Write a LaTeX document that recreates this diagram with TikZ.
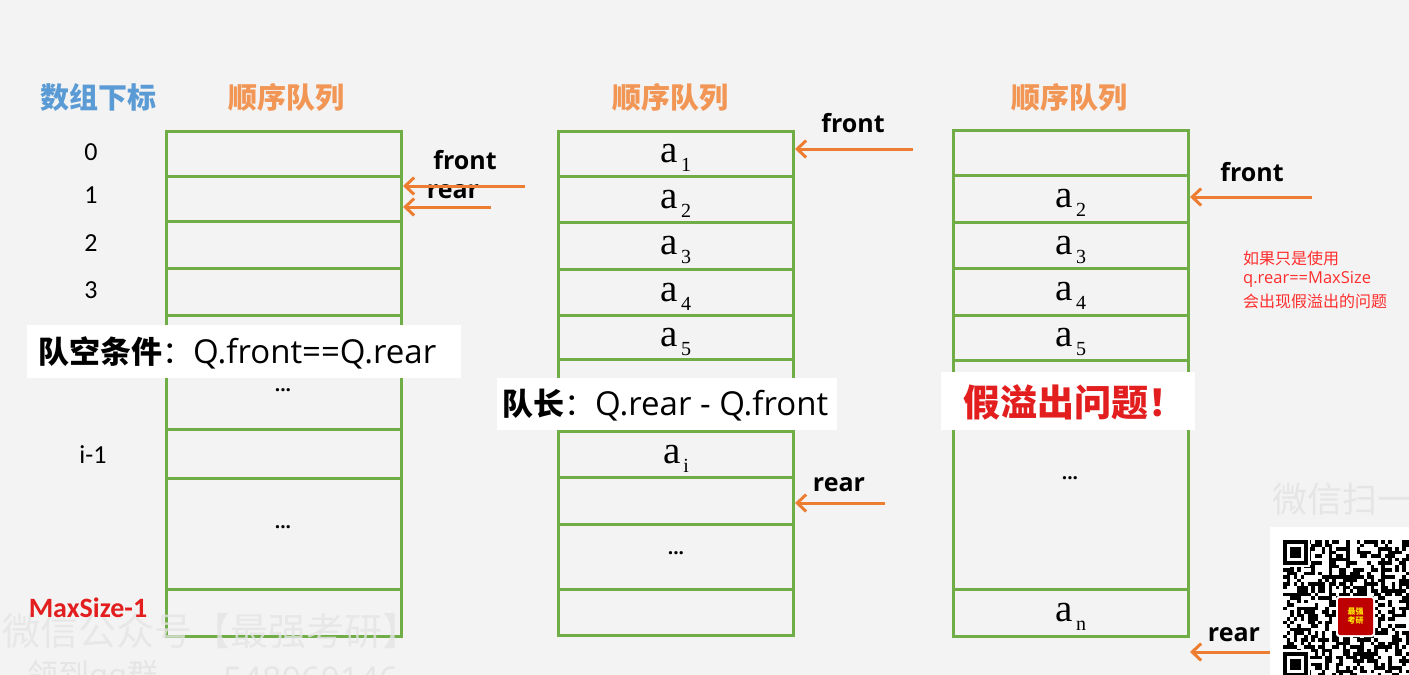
\documentclass[tikz,border=0pt]{standalone}
\usepackage{fontspec}
\setmainfont{Noto Sans CJK SC}
\newfontfamily\osf{Open Sans}
\newfontfamily\tmsf{Liberation Serif}
\newfontfamily\calf{Carlito}
\usetikzlibrary{arrows.meta}
\definecolor{qgreen}{RGB}{112,173,71}
\definecolor{qorange}{RGB}{237,125,49}
\definecolor{ttlorange}{RGB}{242,150,85}
\definecolor{ttlblue}{RGB}{91,155,213}
\definecolor{qred}{RGB}{226,30,30}
\definecolor{notered}{RGB}{255,45,45}
\definecolor{bgc}{RGB}{243,243,243}
\definecolor{wmc}{RGB}{229,229,229}
\newcommand\aSub[1]{{\tmsf\fontsize{39}{39}\selectfont a}\hspace{3pt}\raisebox{-9pt}[0pt][0pt]{\tmsf\fontsize{20}{20}\selectfont #1}}
\begin{document}
\begin{tikzpicture}[x=1pt,y=-1pt,
  cell/.style={draw=qgreen, line width=3pt, minimum width=235pt, inner sep=0pt, anchor=north west},
  ptr/.style={draw=qorange, line width=3pt, -{Straight Barb[length=9pt,width=17pt]}},
  ptrlbl/.style={font=\osf\bfseries\fontsize{25}{25}\selectfont, inner sep=0pt},
  ttl/.style={font=\bfseries\fontsize{29}{29}\selectfont, inner sep=0pt},
  idx/.style={font=\calf\fontsize{26}{26}\selectfont, inner sep=0pt},
  dots/.style={font=\osf\bfseries\fontsize{19}{19}\selectfont, inner sep=0pt},
  wbox/.style={fill=white, anchor=north west, inner sep=0pt},
  notetxt/.style={font=\fontsize{16}{16}\selectfont, text=notered, anchor=west, inner sep=0pt},
  wmk/.style={text=wmc, anchor=west, inner sep=0pt}]
\useasboundingbox (0,0) rectangle (1409,675);
\clip (0,0) rectangle (1409,675);
\fill[bgc] (0,0) rectangle (1409,675);

% titles
\node[ttl, text=ttlblue] (t0) at (98,97) {数组下标};
\node[ttl, text=ttlorange] (t1) at (286,97) {顺序队列};
\node[ttl, text=ttlorange] (t2) at (670,97) {顺序队列};
\node[ttl, text=ttlorange] (t3) at (1069,97) {顺序队列};

% index labels
\node[idx] (i0) at (91,152) {0};
\node[idx] (i1) at (91,195) {1};
\node[idx] (i2) at (91,243) {2};
\node[idx] (i3) at (91,290) {3};
\node[idx] (ii) at (93,455) {i-1};

% queue 1
\node[cell, minimum height=45pt] (A0) at (165,130) {};
\node[cell, minimum height=45pt] (A1) at (165,175) {};
\node[cell, minimum height=47pt] (A2) at (165,220) {};
\node[cell, minimum height=47pt] (A3) at (165,267) {};
\node[cell, minimum height=46pt] (A4) at (165,314) {};
\node[cell, minimum height=68pt] (A5) at (165,360) {};
\node[cell, minimum height=49pt] (A6) at (165,428) {};
\node[cell, minimum height=111pt] (A7) at (165,477) {};
\node[cell, minimum height=47pt] (A8) at (165,588) {};
\node[dots] (dA5) at (283,390) {...};
\node[dots] (dA7) at (283,527) {...};

% queue 2
\node[cell, minimum height=45pt] (B0) at (557,130) {\aSub{1}};
\node[cell, minimum height=46pt] (B1) at (557,175) {\aSub{2}};
\node[cell, minimum height=47pt] (B2) at (557,221) {\aSub{3}};
\node[cell, minimum height=46pt] (B3) at (557,268) {\aSub{4}};
\node[cell, minimum height=44pt] (B4) at (557,314) {\aSub{5}};
\node[cell, minimum height=72pt] (B5) at (557,358) {};
\node[cell, minimum height=46pt] (B6) at (557,430) {\aSub{i}};
\node[cell, minimum height=47pt] (B7) at (557,476) {};
\node[cell, minimum height=65pt] (B8) at (557,523) {};
\node[cell, minimum height=46pt] (B9) at (557,588) {};
\node[dots] (dB8) at (676,553) {...};

% queue 3
\node[cell, minimum height=45pt] (C0) at (952,129) {};
\node[cell, minimum height=47pt] (C1) at (952,174) {\aSub{2}};
\node[cell, minimum height=46pt] (C2) at (952,221) {\aSub{3}};
\node[cell, minimum height=47pt] (C3) at (952,267) {\aSub{4}};
\node[cell, minimum height=45pt] (C4) at (952,314) {\aSub{5}};
\node[cell, minimum height=229pt] (C5) at (952,359) {};
\node[cell, minimum height=47pt] (C6) at (952,588) {\aSub{n}};
\node[dots] (dC5) at (1070,478) {...};

% overlay labels
\node[wbox, minimum width=434pt, minimum height=53pt] (L1) at (27,325) {};
\node[anchor=west, inner sep=0pt] (L1t) at (38,353) {{\bfseries\fontsize{31}{31}\selectfont 队空条件}{\fontsize{31}{31}\selectfont ：}{\osf\fontsize{33}{33}\selectfont Q.front==Q.rear}};
\node[wbox, minimum width=340pt, minimum height=52pt] (L2) at (497,378) {};
\node[anchor=west, inner sep=0pt] (L2t) at (502,405) {{\bfseries\fontsize{31}{31}\selectfont 队长}{\fontsize{31}{31}\selectfont ：}{\osf\fontsize{33}{33}\selectfont Q.rear - Q.front}};
\node[wbox, minimum width=254pt, minimum height=58pt] (L3) at (941,372) {};
\node[anchor=west, inner sep=0pt, text=qred] (L3t) at (963,402) {\bfseries\fontsize{37}{37}\selectfont 假溢出问题！};

% pointer labels
\node[ptrlbl] (fAl) at (465,160) {front};
\node[ptrlbl] (rAl) at (453,192) {rear};
\node[ptrlbl] (fBl) at (853,123) {front};
\node[ptrlbl] (rBl) at (839,485) {rear};
\node[ptrlbl] (fCl) at (1252,172) {front};
\node[ptrlbl] (rCl) at (1234,635) {rear};

% pointers
\coordinate (fA) at (525,186);
\coordinate (rA) at (491,207);
\coordinate (fB) at (913,149);
\coordinate (rB) at (885,503);
\coordinate (fC) at (1312,197);
\coordinate (rC) at (1272,652);
\draw[ptr] (fA) -- (fA -| A1.east);
\draw[ptr] (rA) -- (rA -| A1.east);
\draw[ptr] (fB) -- (fB -| B0.east);
\draw[ptr] (rB) -- (rB -| B7.east);
\draw[ptr] (fC) -- (fC -| C1.east);
\draw[ptr] (rC) -- (rC -| C6.east);

% note
\node[notetxt] (n1) at (1243,258) {如果只是使用};
\node[notetxt, font=\osf\fontsize{16.5}{16.5}\selectfont] (n2) at (1243,279) {q.rear==MaxSize};
\node[notetxt] (n3) at (1243,301) {会出现假溢出的问题};

% watermarks
\node[wmk, font=\fontsize{38}{38}\selectfont, opacity=0.8] (w1) at (2,631) {微信公众号【最强考研】};
\node[wmk, font=\fontsize{31}{31}\selectfont] (w2) at (27,677) {领到qq群};
\node[wmk, font=\osf\fontsize{34}{34}\selectfont] (w3) at (223,679) {548060146};
\node[wmk, font=\fontsize{35}{35}\selectfont] (w4) at (1272,499) {微信扫一扫};
\node[idx, font=\calf\bfseries\fontsize{28}{28}\selectfont, text=qred] (imax) at (88,608) {MaxSize-1};

% QR code
\fill[white] (1270,527) rectangle (1409,675);
\pgfmathsetseed{4242}
\foreach \i in {0,...,35}{
  \foreach \j in {0,...,38}{
    \pgfmathrandominteger{\rr}{0}{1}
    \ifnum\rr=1 \fill[black] ({1283+\i*3.5},{540+\j*3.5}) rectangle ++(3.5,3.5);\fi
  }
}
\fill[white] (1281,538) rectangle ++(28.5,28.5);
\fill[black] (1283,540) rectangle ++(24.5,24.5);
\fill[white] (1286.5,543.5) rectangle ++(17.5,17.5);
\fill[black] (1290,547) rectangle ++(10.5,10.5);
\fill[white] (1281,650) rectangle ++(28.5,28.5);
\fill[black] (1283,652) rectangle ++(24.5,24.5);
\fill[white] (1286.5,655.5) rectangle ++(17.5,17.5);
\fill[black] (1290,659) rectangle ++(10.5,10.5);
\fill[white, rounded corners=3pt] (1336,596) rectangle (1375,637);
\fill[red!75!black, rounded corners=2pt] (1338,598) rectangle (1373,635);
\node[text=yellow!90!orange, font=\bfseries\fontsize{8}{9}\selectfont, align=center, inner sep=0pt] (logo) at (1355.5,616.5) {最强\\考研};
\end{tikzpicture}
\end{document}
